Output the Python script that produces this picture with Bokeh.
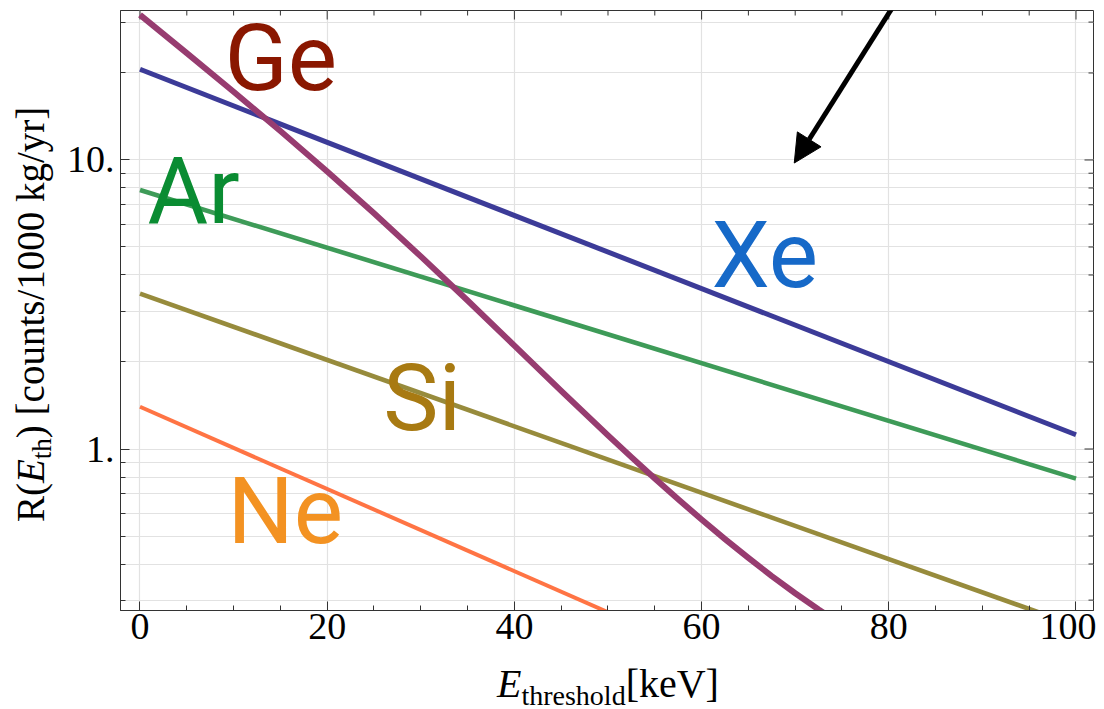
import math
from bokeh.plotting import figure
from bokeh.models import Range1d, FixedTicker, Label, Arrow, NormalHead, Div
from bokeh.layouts import row, column
from bokeh.embed import file_html
from bokeh.resources import INLINE

# ---- data ----
e_line = [0, 100]                       # keV, straight (exponential) series
xe_rate = [20.6, 1.12]
ar_rate = [7.87, 0.79]
si_rate = [3.45, 0.245]
ne_rate = [1.40, 0.053]

e_ge = [0, 5, 10, 15, 20, 25, 30, 35, 40, 45, 50, 52.5, 55, 57.5, 60,
        62.5, 65, 67.5, 70, 72.5, 75]
ge_rate = [31.77, 23.42, 17.22, 12.59, 9.12, 6.54, 4.64, 3.263, 2.278, 1.589,
           1.114, 0.937, 0.7907, 0.6699, 0.5702, 0.4878, 0.4198, 0.3634,
           0.317, 0.2784, 0.2464]

x_major = [0, 20, 40, 60, 80, 100]
x_minor = list(range(0, 101, 5))
y_major = [1, 10]
y_minor = [0.3, 0.4, 0.5, 0.6, 0.7, 0.8, 0.9, 2, 3, 4, 5, 6, 7, 8, 9, 20, 30]
y_grid = [0.3, 0.4, 0.5, 0.6, 0.7, 0.8, 0.9, 1, 2, 3, 4, 5, 6, 7, 8, 9, 10, 20, 30]
y_tick_labels = {1: "1.", 10: "10."}

x_title_html = ('<i>E</i><span style="font-size:28px;position:relative;top:8px">'
                'threshold</span>[keV]')
y_title_html = ('R(<i>E</i><span style="font-size:27px;position:relative;top:7px">'
                'th</span>) [counts/1000 kg/yr]')

X0, X1 = -2.083, 101.87
Y0, Y1 = 0.2762, 32.9
FW, FH = 973, 600
YDIV_W = 58
TOTAL_H = 701

p = figure(frame_width=FW, frame_height=FH,
           x_range=Range1d(X0, X1), y_range=Range1d(Y0, Y1),
           y_axis_type="log", output_backend="svg", toolbar_location=None,
           min_border_left=120 - YDIV_W, min_border_right=3, min_border_top=10,
           min_border_bottom=52)
p.background_fill_color = "white"
p.border_fill_color = "white"
p.outline_line_color = "#333333"

FRAME = "#333333"
MAJ, MIN = 9, 5

def style_axis(ax):
    ax.major_tick_in = MAJ
    ax.major_tick_out = 0
    ax.minor_tick_in = MIN
    ax.minor_tick_out = 0
    ax.axis_line_color = FRAME
    ax.major_tick_line_color = FRAME
    ax.minor_tick_line_color = FRAME
    ax.major_label_text_font = "Liberation Serif"
    ax.major_label_text_font_size = "38px"
    ax.major_label_text_color = "black"

xb = p.xaxis[0]
xb.ticker = FixedTicker(ticks=x_major, minor_ticks=x_minor)
style_axis(xb)
xb.major_label_standoff = 3

yl = p.yaxis[0]
yl.ticker = FixedTicker(ticks=y_major, minor_ticks=y_minor)
yl.major_label_overrides = y_tick_labels
style_axis(yl)
yl.major_label_standoff = 6

p.xgrid.ticker = FixedTicker(ticks=x_major)
p.ygrid.ticker = FixedTicker(ticks=y_grid)
p.xgrid.grid_line_color = "#e2e2e2"
p.ygrid.grid_line_color = "#e2e2e2"
p.xgrid.grid_line_width = 1.2
p.ygrid.grid_line_width = 1.2

# ---- mirrored ticks on top and right frame edges (from the tick lists) ----
dec_per_px = math.log10(Y1 / Y0) / FH
x_per_px = (X1 - X0) / FW
top_minor = [t for t in x_minor if t not in x_major]
p.segment(x0=x_major, y0=[Y1] * len(x_major), x1=x_major,
          y1=[Y1 / 10 ** (MAJ * dec_per_px)] * len(x_major), line_color=FRAME, line_width=1)
p.segment(x0=top_minor, y0=[Y1] * len(top_minor), x1=top_minor,
          y1=[Y1 / 10 ** (MIN * dec_per_px)] * len(top_minor), line_color=FRAME, line_width=1)
p.segment(x0=[X1] * len(y_major), y0=y_major, x1=[X1 - MAJ * x_per_px] * len(y_major),
          y1=y_major, line_color=FRAME, line_width=1)
p.segment(x0=[X1] * len(y_minor), y0=y_minor, x1=[X1 - MIN * x_per_px] * len(y_minor),
          y1=y_minor, line_color=FRAME, line_width=1)

# ---- curves ----
p.line(e_line, ne_rate, line_color="#ff7444", line_width=4.0)
p.line(e_line, si_rate, line_color="#978b3c", line_width=4.6)
p.line(e_line, ar_rate, line_color="#3e9b58", line_width=4.6)
p.line(e_line, xe_rate, line_color="#3c3b98", line_width=5.0)
p.line(e_ge, ge_rate, line_color="#973c70", line_width=6.0, line_join="round")

# ---- element labels ----
elem_names = ["Ge", "Ar", "Xe", "Si", "Ne"]
elem_colors = ["#8a1700", "#0a8c32", "#1669c8", "#a87a12", "#f39222"]
elem_pos_x = [9.03, 0.80, 61.06, 26.0, 9.35]
elem_pos_y = [22.38, 7.81, 4.66, 1.501, 0.610]
for name, col, lx, ly in zip(elem_names, elem_colors, elem_pos_x, elem_pos_y):
    p.add_layout(Label(x=lx, y=ly, text=name, text_color=col,
                       text_font="Roboto", text_font_size="93px",
                       text_align="left", text_baseline="alphabetic"))

# ---- arrow ----
p.add_layout(Arrow(x_start=80.9, y_start=35.8, x_end=69.9, y_end=9.76,
                   line_width=5, line_color="black",
                   end=NormalHead(size=28, fill_color="black", line_color="black")))

# ---- axis titles as HTML text ----
ydiv = Div(width=YDIV_W, height=TOTAL_H, margin=0,
           text=('<div style="position:relative;width:%dpx;height:%dpx">'
                 '<div style="position:absolute;left:0;top:0;white-space:nowrap;'
                 'transform-origin:0 0;transform:translate(11px,522px) rotate(-90deg);'
                 "font-family:'Liberation Serif';font-size:39px;line-height:1;color:black\">"
                 '%s</div></div>') % (YDIV_W, TOTAL_H, y_title_html))
xdiv_h = TOTAL_H - (10 + FH + 52)
xdiv = Div(width=120 - YDIV_W + FW + 3, height=xdiv_h, margin=0,
           text=('<div style="position:relative;width:100%%;height:%dpx">'
                 '<div style="position:absolute;left:%dpx;top:2px;white-space:nowrap;'
                 "font-family:'Liberation Serif';font-size:40px;line-height:1;color:black\">"
                 '%s</div></div>') % (xdiv_h, 497 - YDIV_W, x_title_html))

layout = row(ydiv, column(p, xdiv, spacing=0), spacing=0)

open("out.html", "w").write(file_html(layout, INLINE))
